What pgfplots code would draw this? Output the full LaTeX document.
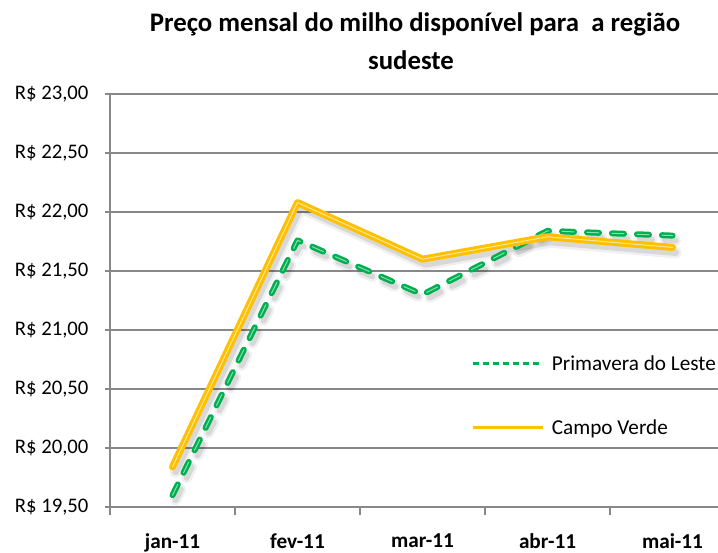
\documentclass[border=0pt]{standalone}
\usepackage{fontspec}
\setmainfont{Carlito}
\usepackage{pgfplots}
\pgfplotsset{compat=1.18}
\definecolor{cvyellow}{HTML}{FFC000}
\definecolor{plgreen}{HTML}{00B050}
\definecolor{gridgray}{HTML}{888888}
\pgfplotstableread{
x y
0 19.60
1 21.76
2 21.30
3 21.84
4 21.80
}\primavera
\pgfplotstableread{
x y
0 19.84
1 22.08
2 21.60
3 21.79
4 21.70
}\campoverde
\begin{document}
\begin{tikzpicture}
\begin{axis}[
  at={(110bp,46bp)}, anchor=south west,
  scale only axis, width=608bp, height=413bp,
  xmin=-0.5, xmax=4.364, ymin=19.5, ymax=23,
  clip=false,
  axis x line*=bottom, axis y line*=left,
  axis line style={gridgray, line width=1.2bp, -},
  xtick={0,1,2,3,4},
  xticklabels={jan-11,fev-11,mar-11,abr-11,mai-11},
  minor xtick={-0.5,0.5,1.5,2.5,3.5},
  major x tick style={draw=none},
  minor tick length=8bp,
  major tick length=5bp,
  tick align=outside,
  every tick/.style={gridgray, line width=1.2bp},
  ytick={19.5,20,20.5,21,21.5,22,22.5,23},
  yticklabels={{R\$ 19,50},{R\$ 20,00},{R\$ 20,50},{R\$ 21,00},{R\$ 21,50},{R\$ 22,00},{R\$ 22,50},{R\$ 23,00}},
  ymajorgrids,
  major grid style={gridgray, line width=1.2bp},
  x tick label style={font=\fontsize{21.3}{24}\selectfont\bfseries, text=black, yshift=-18bp},
  y tick label style={font=\fontsize{20.8}{24}\selectfont, text=black, xshift=-13bp},
  legend image code/.code={\draw[#1] (0bp,0bp) -- (70bp,0bp); \path (76bp,0bp);},
  legend cell align=left,
  legend style={draw=none, fill=none, at={(axis description cs:0.589,0.270)}, anchor=west,
    font=\fontsize{21.3}{24}\selectfont, row sep=44bp, text=black},
]
% legend entries
\addlegendimage{draw=plgreen, line width=2.6bp, dash pattern=on 6.5bp off 3.5bp}
\addlegendentry{Primavera do Leste}
\addlegendimage{draw=cvyellow, line width=2.6bp}
\addlegendentry{Campo Verde}
% shadows
\addplot[forget plot, black, opacity=0.06, line width=11bp, line join=round, line cap=round, dash pattern=on 12bp off 13bp, xshift=3bp, yshift=-5bp] table {\primavera};
\addplot[forget plot, black, opacity=0.10, line width=6bp, line join=round, line cap=round, dash pattern=on 12bp off 13bp, xshift=3bp, yshift=-5bp] table {\primavera};
\addplot[forget plot, black, opacity=0.06, line width=12bp, line join=round, line cap=round, xshift=3bp, yshift=-5bp] table {\campoverde};
\addplot[forget plot, black, opacity=0.10, line width=7bp, line join=round, line cap=round, xshift=3bp, yshift=-5bp] table {\campoverde};
% Primavera do Leste
\addplot[forget plot, plgreen, line width=6bp, line join=round, line cap=round, dash pattern=on 12bp off 13bp] table {\primavera};
\addplot[forget plot, plgreen!45!white, line width=1bp, line join=round, line cap=round, dash pattern=on 12bp off 13bp] table {\primavera};
% Campo Verde
\addplot[forget plot, cvyellow, line width=7bp, line join=round, line cap=round] table {\campoverde};
\addplot[forget plot, cvyellow!40!white, line width=1bp, line join=round, line cap=round] table {\campoverde};
\end{axis}
\node[anchor=base, font=\fontsize{26.9}{30}\selectfont\bfseries, text=black] at (415bp,521bp) {Preço mensal do milho disponível para\ \ a região};
\node[anchor=base, font=\fontsize{26.9}{30}\selectfont\bfseries, text=black] at (411bp,483bp) {sudeste};
\pgfresetboundingbox
\path (0bp,0bp) rectangle (718bp,553bp);
\end{tikzpicture}
\end{document}
